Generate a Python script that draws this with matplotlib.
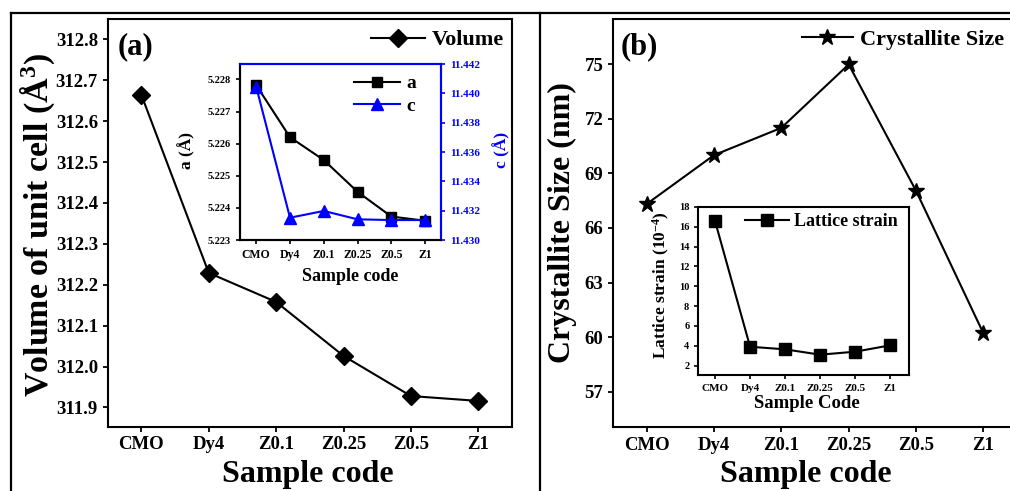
import numpy as np
import matplotlib
matplotlib.use("Agg")
import matplotlib.pyplot as plt
from matplotlib.lines import Line2D

plt.rcParams['font.family'] = ['Liberation Serif', 'DejaVu Serif']
plt.rcParams['font.weight'] = 'bold'
plt.rcParams['mathtext.fontset'] = 'custom'
plt.rcParams['mathtext.rm'] = 'Liberation Serif:bold'
plt.rcParams['mathtext.bf'] = 'Liberation Serif:bold'
plt.rcParams['mathtext.it'] = 'Liberation Serif:bold:italic'
plt.rcParams['axes.linewidth'] = 1.5

# ---------------- data ----------------
samples = ['CMO', 'Dy4', 'Z0.1', 'Z0.25', 'Z0.5', 'Z1']
volume = [312.664, 312.229, 312.158, 312.026, 311.928, 311.916]
lattice_a = [5.22782, 5.22620, 5.22549, 5.22450, 5.22373, 5.22360]
lattice_c = [11.44045, 11.43152, 11.43198, 11.43141, 11.43136, 11.43136]
crystallite = [67.32, 70.01, 71.51, 75.0, 68.05, 60.21]
strain = [16.56, 3.90, 3.64, 3.10, 3.40, 4.04]

vol_ticks = [311.9, 312.0, 312.1, 312.2, 312.3, 312.4, 312.5, 312.6, 312.7, 312.8]
a_ticks = [5.223, 5.224, 5.225, 5.226, 5.227, 5.228]
c_ticks = [11.430, 11.432, 11.434, 11.436, 11.438, 11.440, 11.442]
cs_ticks = [57, 60, 63, 66, 69, 72, 75]
strain_ticks = [2, 4, 6, 8, 10, 12, 14, 16, 18]

W, H = 1010, 491
fig = plt.figure(figsize=(W / 100, H / 100), dpi=100)


def rect(l, t, r, b):
    return [l / W, 1 - b / H, (r - l) / W, (b - t) / H]


x = np.arange(len(samples))
BLUE = '#0000ff'


def style(ax, size, length=3.5, width=1.3):
    ax.tick_params(direction='out', length=length, width=width, labelsize=size,
                   top=False, right=False)
    for lab in ax.get_xticklabels() + ax.get_yticklabels():
        lab.set_fontweight('bold')


def place_labels(ax, xy_x, xy_y):
    ax.xaxis.set_label_coords(*xy_x)
    ax.yaxis.set_label_coords(*xy_y)
    ax.xaxis.label.set_va('center')
    ax.yaxis.label.set_va('center')


# ---------------- panel (a) ----------------
ax1 = fig.add_axes(rect(107.7, 19.3, 512, 426.7))
ax1.plot(x, volume, color='k', lw=1.5, marker='D', ms=9, label='Volume')
ax1.set_xlim(-0.5, 5.5)
ax1.set_ylim(311.853, 312.849)
ax1.set_xticks(x)
ax1.set_xticklabels(samples)
ax1.set_yticks(vol_ticks)
ax1.set_yticklabels([f'{v:.1f}' for v in vol_ticks])
style(ax1, 13.5)
ax1.set_ylabel('Volume of unit cell (Å$^{3}$)', fontsize=24.5, fontweight='bold')
ax1.set_xlabel('Sample code', fontsize=23, fontweight='bold')
place_labels(ax1, (0.495, -0.118), (-0.172, 0.495))
ax1.legend(loc='upper right', bbox_to_anchor=(0.99, 0.985), frameon=False,
           fontsize=16, handlelength=2.4, handletextpad=0.3, borderaxespad=0,
           borderpad=0.2)
ax1.text(0.025, 0.968, '(a)', transform=ax1.transAxes, fontsize=22,
         fontweight='bold', va='top', ha='left')

# inset (a)
ins1 = fig.add_axes(rect(240, 64, 441, 240))
ins1r = ins1.twinx()
la, = ins1.plot(x, lattice_a, color='k', lw=1.5, marker='s', ms=7, label='a')
lc, = ins1r.plot(x, lattice_c, color=BLUE, lw=1.5, marker='^', ms=8.5, label='c')
ins1.set_xlim(-0.48, 5.47)
ins1.set_ylim(5.223, 5.22848)
ins1r.set_ylim(11.430, 11.442)
ins1.set_xticks(x)
ins1.set_xticklabels(samples)
ins1.set_yticks(a_ticks)
ins1.set_yticklabels([f'{v:.3f}' for v in a_ticks])
ins1r.set_yticks(c_ticks)
ins1r.set_yticklabels([f'{v:.3f}' for v in c_ticks])
style(ins1, 7.5, length=3, width=1.2)
ins1.tick_params(axis='x', labelsize=8.5)
ins1r.tick_params(direction='out', length=3, width=1.2, labelsize=8,
                  colors=BLUE, right=True, left=False)
for lab in ins1r.get_yticklabels():
    lab.set_fontweight('bold')
ins1r.spines['right'].set_color(BLUE)
ins1r.spines['top'].set_color(BLUE)
ins1.spines['top'].set_color(BLUE)
ins1.set_ylabel('a (Å)', fontsize=12.5, fontweight='bold')
ins1.set_xlabel('Sample code', fontsize=13, fontweight='bold')
place_labels(ins1, (0.547, -0.205), (-0.265, 0.51))
ins1r.set_ylabel('c (Å)', fontsize=12.5, fontweight='bold', color=BLUE, rotation=90)
ins1r.yaxis.set_label_coords(1.30, 0.51)
ins1r.yaxis.label.set_va('center')
ins1r.legend([la, lc], ['a', 'c'], loc='upper right', bbox_to_anchor=(0.885, 0.95),
             frameon=False, fontsize=14, handlelength=2.4, handletextpad=0.3,
             borderaxespad=0, borderpad=0.1, labelspacing=0.25)

# ---------------- panel (b) ----------------
ax2 = fig.add_axes(rect(613, 19, 1017, 427))
ax2.plot(x, crystallite, color='k', lw=1.5, marker='*', ms=12,
         label='Crystallite Size')
ax2.set_xlim(-0.5, 5.5)
ax2.set_ylim(55.05, 77.5)
ax2.set_xticks(x)
ax2.set_xticklabels(samples)
ax2.set_yticks(cs_ticks)
style(ax2, 13.5)
ax2.set_ylabel('Crystallite Size (nm)', fontsize=23, fontweight='bold')
ax2.set_xlabel('Sample code', fontsize=23, fontweight='bold')
place_labels(ax2, (0.478, -0.116), (-0.126, 0.5))
ax2.legend(loc='upper right', bbox_to_anchor=(0.978, 0.985), frameon=False,
           fontsize=16, handlelength=2.3, handletextpad=0.3, borderaxespad=0,
           borderpad=0.2)
ax2.text(0.018, 0.968, '(b)', transform=ax2.transAxes, fontsize=22,
         fontweight='bold', va='top', ha='left')

# inset (b)
ins2 = fig.add_axes(rect(698.3, 207, 909.3, 375))
ins2.plot(x, strain, color='k', lw=1.5, marker='s', ms=8, label='Lattice strain')
ins2.set_xlim(-0.48, 5.55)
ins2.set_ylim(1.05, 18.0)
ins2.set_xticks(x)
ins2.set_xticklabels(samples)
ins2.set_yticks(strain_ticks)
style(ins2, 7.5, length=3, width=1.2)
ins2.tick_params(axis='x', labelsize=8)
ins2.set_ylabel('Lattice strain (10$^{-4}$)', fontsize=12.5, fontweight='bold')
ins2.set_xlabel('Sample Code', fontsize=13.5, fontweight='bold')
place_labels(ins2, (0.514, -0.167), (-0.173, 0.536))
ins2.legend(loc='upper right', bbox_to_anchor=(0.955, 0.975), frameon=False,
            fontsize=13, handlelength=2.4, handletextpad=0.3, borderaxespad=0,
            borderpad=0.1)

# ---------------- outer frame ----------------
fl = dict(transform=fig.transFigure, color='k', lw=1.6)
fig.add_artist(Line2D([11 / W, 11 / W], [0, 1 - 13 / H], **fl))
fig.add_artist(Line2D([11 / W, 1.0], [1 - 13 / H, 1 - 13 / H], **fl))
fig.add_artist(Line2D([540 / W, 540 / W], [0, 1 - 13 / H], **fl))

fig.savefig('out.png', dpi=100)
